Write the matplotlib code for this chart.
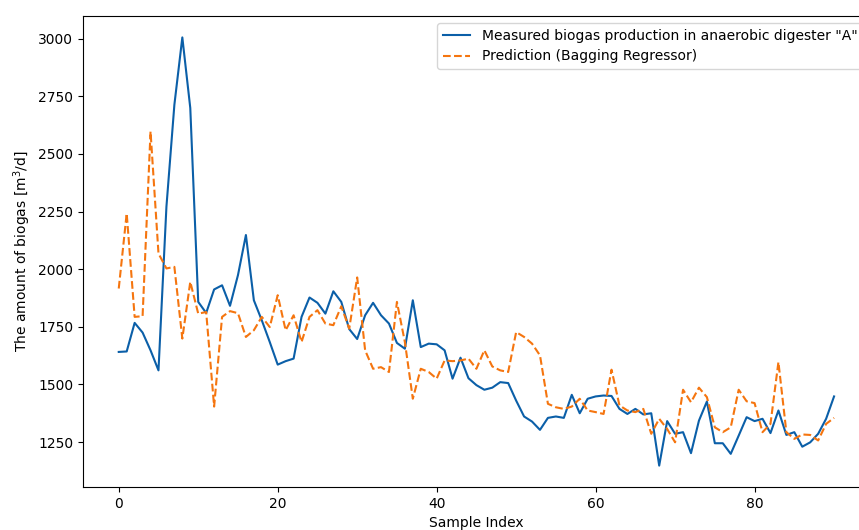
import matplotlib
matplotlib.use("Agg")
import matplotlib.pyplot as plt
import numpy as np

# measured biogas production (digester A)
measured = [1641, 1643, 1767, 1725, 1648, 1561, 2271, 2713, 3005, 2699,
            1858, 1810, 1912, 1930, 1841, 1974, 2148, 1865, 1778, 1684,
            1586, 1601, 1612, 1793, 1877, 1854, 1807, 1904, 1858, 1740,
            1697, 1800, 1854, 1800, 1764, 1680, 1655, 1865, 1662, 1677,
            1674, 1648, 1525, 1616, 1527, 1497, 1477, 1486, 1510, 1506,
            1430, 1361, 1339, 1303, 1355, 1361, 1355, 1455, 1375, 1438,
            1448, 1452, 1450, 1394, 1372, 1394, 1370, 1375, 1148, 1341,
            1286, 1293, 1202, 1343, 1426, 1245, 1245, 1199, 1278, 1358,
            1341, 1351, 1289, 1387, 1281, 1293, 1230, 1249, 1286, 1351,
            1448]

# bagging regressor prediction
predicted = [1916, 2242, 1793, 1796, 2597, 2068, 2003, 2010, 1699, 1945,
             1807, 1814, 1404, 1793, 1818, 1809, 1706, 1735, 1793, 1749,
             1887, 1735, 1800, 1684, 1793, 1822, 1764, 1757, 1839, 1742,
             1964, 1648, 1568, 1575, 1554, 1858, 1684, 1438, 1568, 1554,
             1525, 1604, 1601, 1604, 1612, 1568, 1648, 1578, 1561, 1554,
             1727, 1706, 1677, 1626, 1416, 1401, 1394, 1404, 1438, 1387,
             1380, 1372, 1564, 1409, 1387, 1380, 1394, 1286, 1351, 1307,
             1249, 1477, 1423, 1486, 1445, 1314, 1293, 1314, 1477, 1427,
             1419, 1293, 1329, 1597, 1293, 1264, 1283, 1281, 1257, 1329,
             1355]

idx = np.arange(len(measured))

fig = plt.figure(figsize=(8.59, 5.30), dpi=100)
ax = fig.add_axes([0.0966, 0.0811, 0.916, 0.8887])

ax.plot(idx, measured, color="#0b5fa8", lw=1.5,
        label='Measured biogas production in anaerobic digester "A"')
ax.plot(idx, predicted, color="#f5750f", lw=1.5, ls="--",
        label="Prediction (Bagging Regressor)")

ax.set_xlabel("Sample Index")
ax.set_ylabel("The amount of biogas [m$^3$/d]")
ax.legend(loc="upper right")

fig.savefig("out.png", dpi=100)
